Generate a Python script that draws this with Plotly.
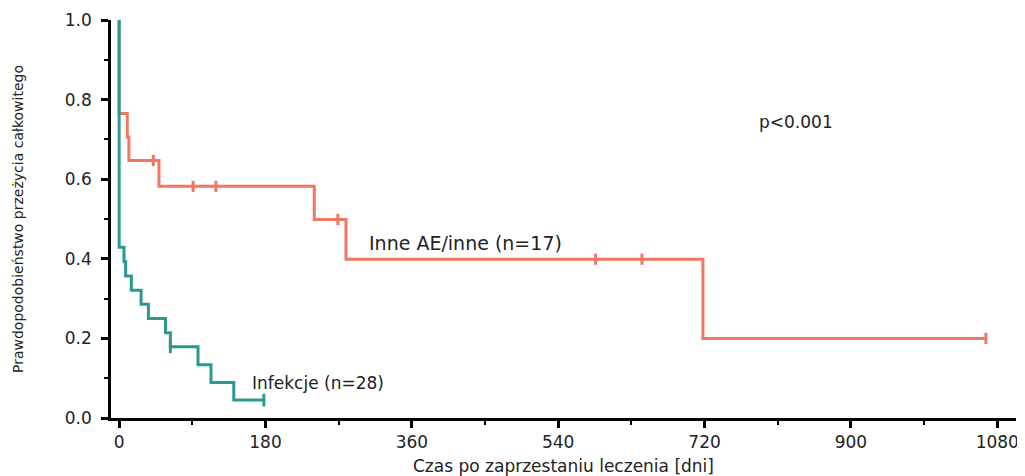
import plotly.graph_objects as go

# Kaplan-Meier step data (days, survival)
inf_t = [0, 0, 6, 8, 15, 27, 36, 57, 63, 97, 113, 141, 179]
inf_s = [1.0, 0.429, 0.393, 0.357, 0.321, 0.286, 0.25, 0.214, 0.179, 0.134, 0.089, 0.045, 0.045]
inf_cens_t = [63, 178]
inf_cens_s = [0.179, 0.045]

oth_t = [0, 0, 10, 12, 49, 240, 279, 718, 1066]
oth_s = [1.0, 0.765, 0.706, 0.647, 0.582, 0.499, 0.399, 0.2, 0.2]
oth_cens_t = [42, 91, 119, 269, 586, 643, 1066]
oth_cens_s = [0.647, 0.582, 0.582, 0.499, 0.399, 0.399, 0.2]

x_ticks = [0, 180, 360, 540, 720, 900, 1080]
y_ticks = [0.0, 0.2, 0.4, 0.6, 0.8, 1.0]

RED = "#EF7764"
TEAL = "#2A9893"
FONT = "DejaVu Sans"

fig = go.Figure()
fig.add_trace(go.Scatter(x=oth_t, y=oth_s, mode="lines", line=dict(color=RED, width=3, shape="hv"),
                         showlegend=False, hoverinfo="skip"))
fig.add_trace(go.Scatter(x=oth_cens_t, y=oth_cens_s, mode="markers",
                         marker=dict(symbol="line-ns", size=8, line=dict(color=RED, width=3)),
                         showlegend=False))
fig.add_trace(go.Scatter(x=inf_t, y=inf_s, mode="lines", line=dict(color=TEAL, width=3, shape="hv"),
                         showlegend=False, hoverinfo="skip"))
fig.add_trace(go.Scatter(x=inf_cens_t, y=inf_cens_s, mode="markers",
                         marker=dict(symbol="line-ns", size=9, line=dict(color=TEAL, width=3)),
                         showlegend=False))

fig.add_annotation(x=832, y=0.744, text="p<0.001", showarrow=False,
                   font=dict(family=FONT, size=17, color="#222"))
fig.add_annotation(x=426, y=0.44, text="Inne AE/inne (n=17)", showarrow=False,
                   font=dict(family=FONT, size=19, color="#222"))
fig.add_annotation(x=244, y=0.088, text="Infekcje (n=28)", showarrow=False,
                   font=dict(family=FONT, size=17, color="#222"))

fig.update_layout(
    width=1017, height=468,
    margin=dict(l=103, r=9, t=12, b=58),
    plot_bgcolor="white", paper_bgcolor="white",
    font=dict(family=FONT, color="#222"),
)
fig.update_xaxes(
    automargin=False,
    range=[-10, 1103], tickvals=x_ticks, ticktext=[str(v) for v in x_ticks],
    showgrid=False, zeroline=False, showline=True, linecolor="black", linewidth=2.5,
    ticks="outside", ticklen=7, tickwidth=2.5, tickcolor="black",
    tickfont=dict(family=FONT, size=17, color="#222"),
    minor=dict(dtick=90, tick0=0, ticks="outside", ticklen=4, tickwidth=2, tickcolor="black", showgrid=False),
    title=dict(text="Czas po zaprzestaniu leczenia [dni]", font=dict(family=FONT, size=17, color="#222"), standoff=13),
)
fig.update_yaxes(
    automargin=False,
    range=[0, 1.0], tickvals=y_ticks, ticktext=[f"{v:.1f}" for v in y_ticks],
    showgrid=False, zeroline=False, showline=True, linecolor="black", linewidth=2.5,
    ticks="outside", ticklen=7, tickwidth=2.5, tickcolor="black", ticklabelstandoff=6,
    tickfont=dict(family=FONT, size=17, color="#222"),
    minor=dict(dtick=0.1, tick0=0, ticks="outside", ticklen=4, tickwidth=2, tickcolor="black", showgrid=False),
    title=dict(text="Prawdopodobieństwo przeżycia całkowitego", font=dict(family=FONT, size=14, color="#222"), standoff=38),
)

fig.write_html("out.html")
